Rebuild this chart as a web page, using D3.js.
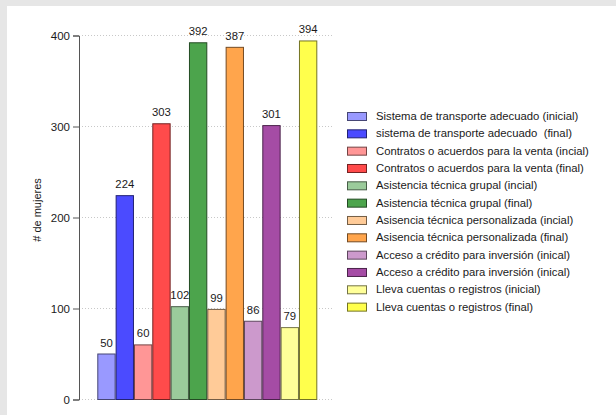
<!DOCTYPE html>
<html><head><meta charset="utf-8">
<script src="https://cdn.jsdelivr.net/npm/d3@7"></script>
<style>
html,body{margin:0;padding:0;background:#e6e6e6;}
svg{display:block;font-family:"Liberation Sans",Arial,sans-serif;}
text{white-space:pre;}
</style></head>
<body>
<svg id="c" width="616" height="415"></svg>
<script>
const categories = [
  "Sistema de transporte adecuado (inicial)",
  "sistema de transporte adecuado  (final)",
  "Contratos o acuerdos para la venta (incial)",
  "Contratos o acuerdos para la venta (final)",
  "Asistencia técnica grupal (incial)",
  "Asistencia técnica grupal (final)",
  "Asisencia técnica personalizada (incial)",
  "Asisencia técnica personalizada (final)",
  "Acceso a crédito para inversión (inical)",
  "Acceso a crédito para inversión (inical)",
  "Lleva cuentas o registros (inicial)",
  "Lleva cuentas o registros (final)"
];
const values = [50, 224, 60, 303, 102, 392, 99, 387, 86, 301, 79, 394];
const colors = ["#9999ff","#4b4bff","#ff9696","#ff4b4b","#9bcb9b","#4ca44c",
                "#ffcb98","#ffa54c","#cc99cc","#a54ca5","#ffff99","#ffff4c"];
const yTicks = [0, 100, 200, 300, 400];
const yTitle = "# de mujeres";

const svg = d3.select("#c");
svg.append("rect").attr("x",7).attr("y",6).attr("width",609).attr("height",409).attr("fill","#fff");

const x0 = 79, x1 = 334, y0 = 399.5, y1 = 35.5;
const y = d3.scaleLinear().domain([0,400]).range([y0,y1]);
const x = d3.scaleBand().domain(d3.range(values.length)).range([97.3,317.3]).paddingInner(0);

// gridlines
svg.append("g").selectAll("line").data(yTicks).join("line")
  .attr("x1",82).attr("x2",x1).attr("y1",d=>y(d)).attr("y2",d=>y(d))
  .attr("stroke","#c8c8c8").attr("stroke-width",1).attr("stroke-dasharray","1,2");

// axis
const ax = svg.append("g").attr("transform",`translate(${x0},0)`)
  .call(d3.axisLeft(y).tickValues(yTicks).tickSize(6).tickPadding(3));
ax.select(".domain").attr("stroke","#555");
ax.selectAll(".tick line").attr("stroke","#555");
ax.selectAll(".tick text").attr("font-size","11.5px").attr("fill","#1a1a1a").attr("font-family","Liberation Sans, Arial, sans-serif");

// bars
svg.append("g").selectAll("rect").data(values).join("rect")
  .attr("x",(d,i)=>x(i)+0.5).attr("width",x.bandwidth()-1)
  .attr("y",d=>y(d)).attr("height",d=>y0-y(d))
  .attr("fill",(d,i)=>colors[i])
  .attr("stroke",(d,i)=>d3.color(colors[i]).darker(2.2))
  .attr("stroke-width",1);

// labels
svg.append("g").selectAll("text").data(values).join("text")
  .attr("x",(d,i)=>x(i)+x.bandwidth()/2).attr("y",d=>y(d)-7.5)
  .attr("text-anchor","middle").attr("font-size","11.3px").attr("fill","#1a1a1a")
  .text(d=>d);

// y title
svg.append("text").attr("transform",`translate(40.5,210) rotate(-90)`)
  .attr("text-anchor","middle").attr("font-size","11px").attr("fill","#1a1a1a").text(yTitle);

// legend
const lg = svg.append("g").selectAll("g").data(categories).join("g")
  .attr("transform",(d,i)=>`translate(347,${116+i*17.33})`);
lg.append("rect").attr("x",0.5).attr("y",-3.5).attr("width",19).attr("height",8)
  .attr("fill",(d,i)=>colors[i]).attr("stroke",(d,i)=>d3.color(colors[i]).darker(2.2));
lg.append("text").attr("x",29).attr("y",4).attr("font-size","11.3px").attr("fill","#1a1a1a")
  .attr("xml:space","preserve").text(d=>d);
</script>
</body></html>
